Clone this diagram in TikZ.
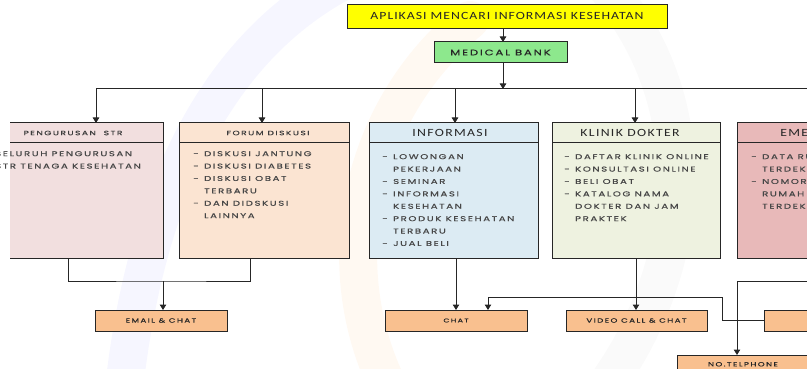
\documentclass[tikz,border=0pt]{standalone}
\usepackage{fontspec}
\setmainfont{Carlito}
\newfontfamily\gothic[FakeStretch=1.45,LetterSpace=23,FakeBold=0.6]{Poppins}
\newfontfamily\calib[FakeStretch=1.25,LetterSpace=12]{Carlito}
\usetikzlibrary{calc,arrows.meta}
\definecolor{yel}{HTML}{FFFF00}
\definecolor{grn}{HTML}{8DE88D}
\definecolor{pinkc}{HTML}{F2DFDF}
\definecolor{peach}{HTML}{FBE4D2}
\definecolor{lblue}{HTML}{DCEBF3}
\definecolor{lgreen}{HTML}{EEF2E0}
\definecolor{rose}{HTML}{E8B9B9}
\definecolor{orng}{HTML}{F9C08F}
\definecolor{ink}{HTML}{262626}
\newcommand\dl{\makebox[11pt][l]{-}}
\newcommand\nd{\hspace*{11pt}}
\tikzset{
  bl/.style={draw=ink, line width=1pt},
  box/.style={bl, inner sep=0pt, outer sep=0pt},
  arr/.style={bl, -{Triangle[length=5.5pt,width=6.5pt]}},
  hd/.style={font=\gothic\fontsize{6.3}{8}\selectfont, text=ink!90},
  hdb/.style={font=\calib\fontsize{11}{12}\selectfont, text=ink},
  lst/.style={font=\gothic\fontsize{7}{12.4}\selectfont, text=ink!85, align=left, anchor=north west, inner sep=0pt},
  small/.style={font=\gothic\fontsize{6}{7}\selectfont, text=ink},
  wm/.style={line width=38pt, opacity=0.05, line cap=round}
}
\begin{document}
\begin{tikzpicture}[x=1pt,y=-1pt]
\useasboundingbox (0,0) rectangle (807,369);
\clip (0,0) rectangle (807,369);
% faint watermark
\draw[wm, draw=blue!70] (125,380) .. controls (150,170) and (230,40) .. (345,-20);
\draw[wm, draw=orange] (385,380) .. controls (330,260) and (360,110) .. (470,20);
\draw[wm, draw=black!40] (610,380) .. controls (700,250) and (700,90) .. (600,-20);
% top
\node[box, fill=yel, minimum width=320pt, minimum height=24pt, font=\calib\fontsize{11}{12}\selectfont\addfontfeature{LetterSpace=9}, text=ink] (app) at (507,17) {\raisebox{2.5pt}{APLIKASI MENCARI INFORMASI KESEHATAN}};
\node[box, fill=grn, minimum width=133pt, minimum height=21pt, font=\gothic\fontsize{8}{10}\selectfont, text=ink] (mb) at (500.5,52.5) {MEDICAL BANK};
\coordinate (hub) at (503,89);
\draw[arr] (app.south -| hub) -- (mb.north -| hub);
\draw[arr] (mb.south -| hub) -- (hub);
% category boxes
\node[inner sep=0pt, outer sep=0pt, fill=pinkc, minimum width=153pt, minimum height=135pt] (P) at (86.5,190.5) {};
\draw[bl] (P.north west) -- (P.north east) -- (P.south east) -- (P.south west);
\node[box, fill=peach, minimum width=170pt, minimum height=135pt] (F) at (264,190.5) {};
\node[box, fill=lblue, minimum width=169pt, minimum height=135pt] (I) at (453.5,190.5) {};
\node[box, fill=lgreen, minimum width=168pt, minimum height=135pt] (K) at (636,190.5) {};
\node[box, fill=rose, minimum width=168pt, minimum height=135pt] (E) at (821,190.5) {};
\draw[bl] ($(P.north west)+(0,20)$) -- ($(P.north east)+(0,20)$);
\foreach \b in {F,I,K,E}{\draw[bl] ($(\b.north west)+(0,20)$) -- ($(\b.north east)+(0,20)$);}
% headers
\node[hd] at (73,133) {PENGURUSAN\ \ STR};
\node[hd] at (268,133) {FORUM DISKUSI};
\node[hdb] at (450,132.5) {INFORMASI};
\node[hdb] at (630,132.5) {KLINIK DOKTER};
\node[hdb] at (821,132.5) {EMERGENCY};
% lists
\node[lst] at (-5,151) {SELURUH PENGURUSAN\\STR TENAGA KESEHATAN};
\node[lst] at (193,151) {\dl DISKUSI JANTUNG\\\dl DISKUSI DIABETES\\\dl DISKUSI OBAT\\\nd TERBARU\\\dl DAN DIDSKUSI\\\nd LAINNYA};
\node[lst] at (382,154) {\dl LOWONGAN\\\nd PEKERJAAN\\\dl SEMINAR\\\dl INFORMASI\\\nd KESEHATAN\\\dl PRODUK KESEHATAN\\\nd TERBARU\\\dl JUAL BELI};
\node[lst] at (564,154) {\dl DAFTAR KLINIK ONLINE\\\dl KONSULTASI ONLINE\\\dl BELI OBAT\\\dl KATALOG NAMA\\\nd DOKTER DAN JAM\\\nd PRAKTEK};
\node[lst] at (751,154) {\dl DATA RUMAH SAKIT\\\nd TERDEKAT\\\dl NOMOR TELEPON\\\nd RUMAH SAKIT\\\nd TERDEKAT};
% top arrows
\draw[bl] (96,89) -- (830,89);
\foreach \b/\x in {P/96,F/262,I/455,K/635,E/821}{\draw[arr] (\x,89) -- (\b.north -| \x,0);}
% bottom boxes
\node[box, fill=orng, minimum width=132pt, minimum height=21pt, small] (mail) at (161,320.5) {EMAIL \& CHAT};
\node[box, fill=orng, minimum width=142pt, minimum height=21pt, small, font=\gothic\fontsize{5.5}{7}\selectfont] (chat) at (456,320.5) {CHAT};
\node[box, fill=orng, minimum width=141pt, minimum height=21pt, small] (vid) at (636.5,320.5) {VIDEO CALL \& CHAT};
\node[box, fill=orng, minimum width=136pt, minimum height=21pt, small] (ban) at (832,320.5) {BANTUAN};
\node[box, fill=orng, minimum width=132pt, minimum height=21pt, small] (tel) at (743,365.5) {\raisebox{2.5pt}{NO.TELPHONE}};
% bottom connectors
\coordinate (j1) at (163,281);
\draw[bl] (P.south -| 68,0) |- (j1) -| (F.south -| 250,0);
\draw[arr] (j1) -- (mail.north -| j1);
\draw[arr] (I.south -| 456,0) -- (chat.north -| 456,0);
\draw[arr] (K.south -| 636,0) -- (vid.north -| 636,0);
\coordinate (c1) at (722,297);
\draw[arr] (ban.west) -| (c1) -| (chat.north -| 488,0);
\coordinate (c2) at (830,281);
\draw[arr] (c2) -| (tel.north -| 737,0);
\end{tikzpicture}
\end{document}
